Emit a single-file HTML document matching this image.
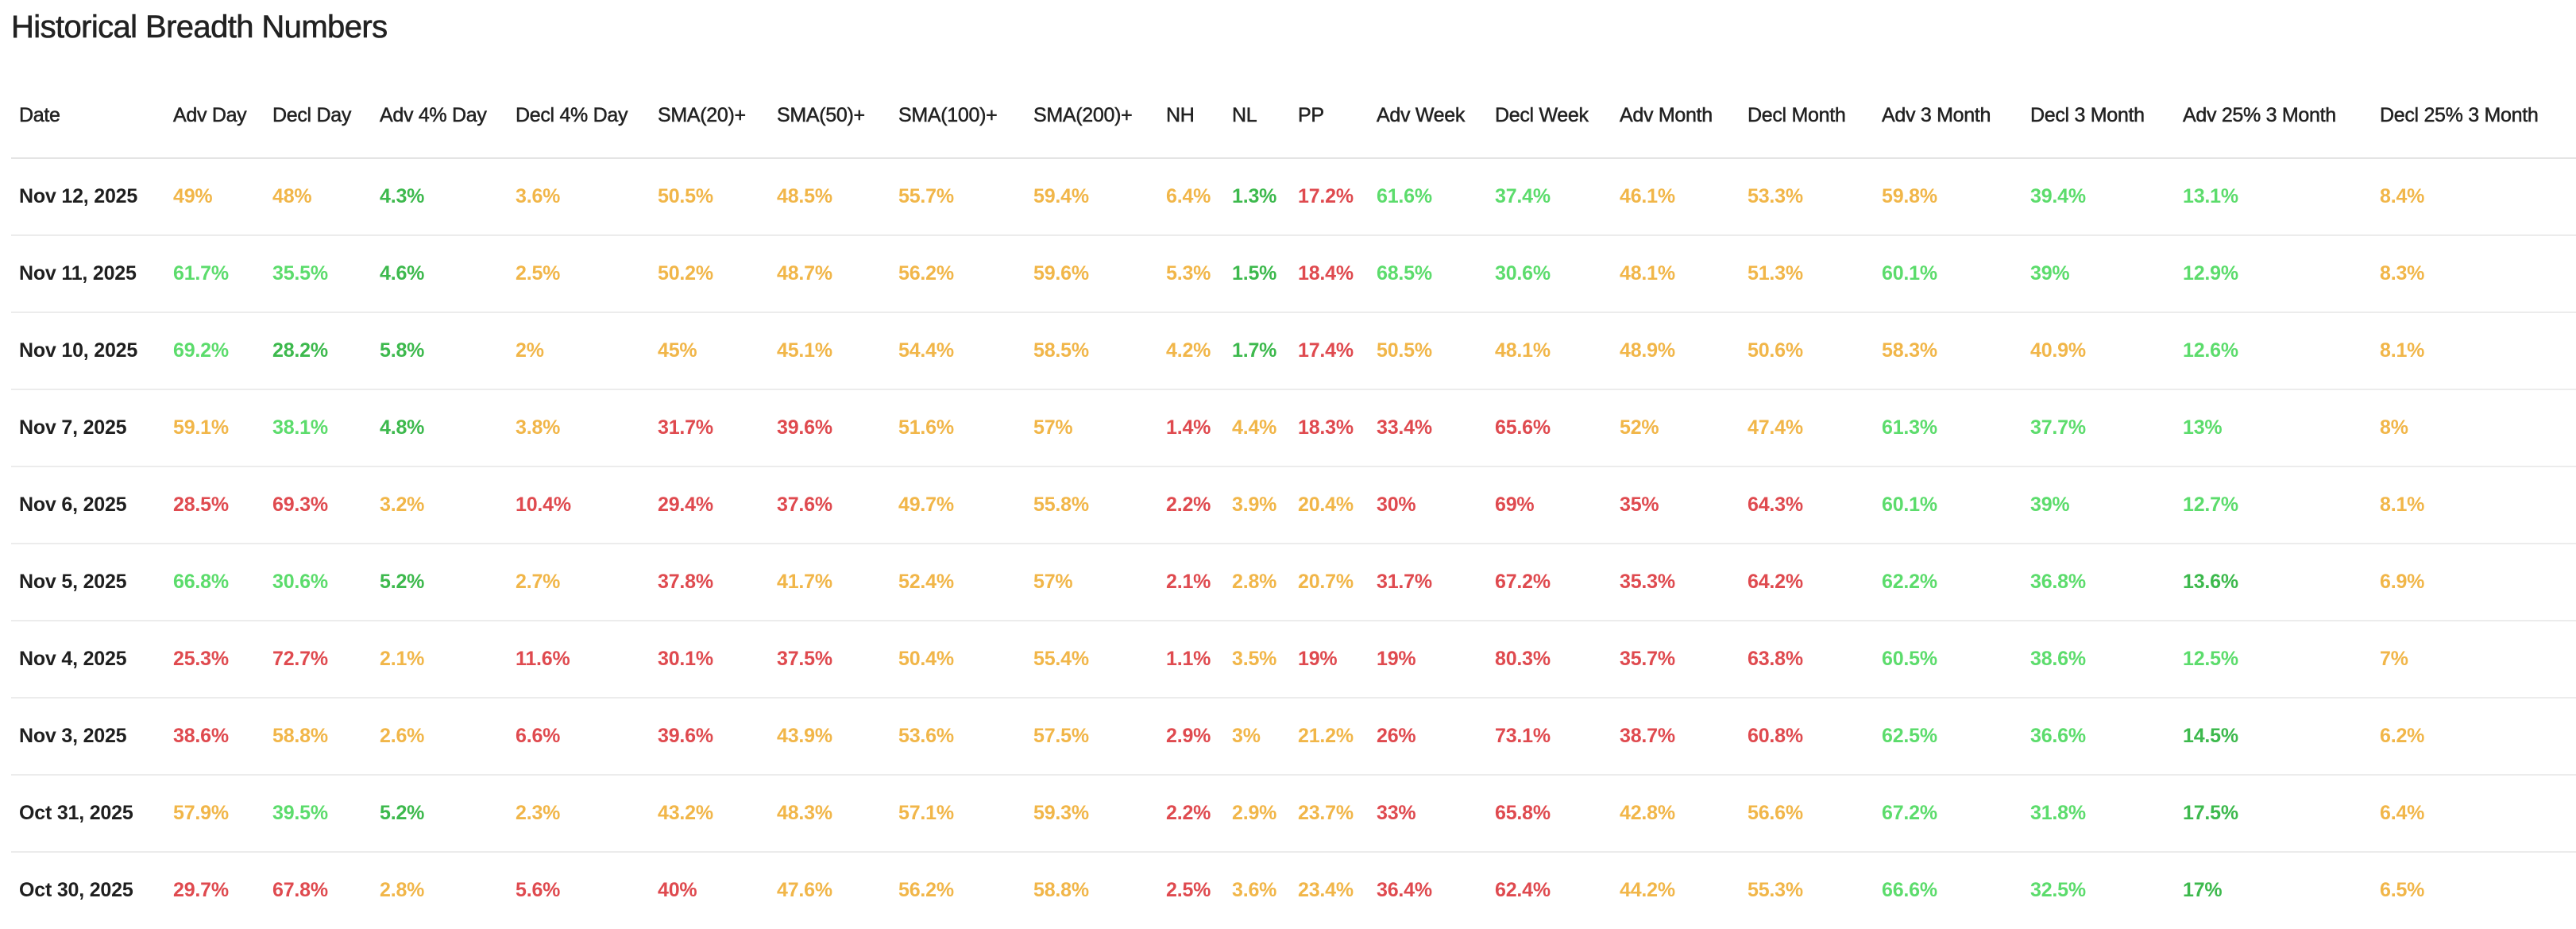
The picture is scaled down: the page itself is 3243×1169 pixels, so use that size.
<!DOCTYPE html>
<html><head><meta charset="utf-8"><style>
html,body{margin:0;padding:0;background:#fff;width:3243px;height:1169px;overflow:hidden}
body{font-family:"Liberation Sans",sans-serif;color:#222}
h1{position:absolute;left:14px;top:12px;margin:0;font-weight:normal;font-size:40px;letter-spacing:-0.6px;color:#222;-webkit-text-stroke:0.6px #222}
table{position:absolute;left:14px;top:92px;border-collapse:collapse;table-layout:fixed;width:3229px}
th,td{padding:0;text-align:left;white-space:nowrap;overflow:visible}
th{height:106px;font-weight:normal;font-size:25px;color:#222;border-bottom:2px solid #e4e4e4;letter-spacing:-0.3px;-webkit-text-stroke:0.5px #222}
td{height:95px;font-weight:bold;font-size:25px;border-bottom:2px solid #ececec;letter-spacing:-0.2px}
th:first-child,td:first-child{padding-left:10px}
td:first-child{color:#1f1f1f}
.Y{color:#f1b649}.R{color:#df4a4f}.G{color:#5cdc6c}.D{color:#3db94d}
</style></head><body>
<h1>Historical Breadth Numbers</h1>
<table>
<colgroup><col style="width:204px"><col style="width:125px"><col style="width:135px"><col style="width:171px"><col style="width:179px"><col style="width:150px"><col style="width:153px"><col style="width:170px"><col style="width:167px"><col style="width:83px"><col style="width:83px"><col style="width:99px"><col style="width:149px"><col style="width:157px"><col style="width:161px"><col style="width:169px"><col style="width:187px"><col style="width:192px"><col style="width:248px"><col style="width:247px"></colgroup>
<tr><th>Date</th><th>Adv Day</th><th>Decl Day</th><th>Adv 4% Day</th><th>Decl 4% Day</th><th>SMA(20)+</th><th>SMA(50)+</th><th>SMA(100)+</th><th>SMA(200)+</th><th>NH</th><th>NL</th><th>PP</th><th>Adv Week</th><th>Decl Week</th><th>Adv Month</th><th>Decl Month</th><th>Adv 3 Month</th><th>Decl 3 Month</th><th>Adv 25% 3 Month</th><th>Decl 25% 3 Month</th></tr>
<tr><td>Nov 12, 2025</td><td class="Y">49%</td><td class="Y">48%</td><td class="D">4.3%</td><td class="Y">3.6%</td><td class="Y">50.5%</td><td class="Y">48.5%</td><td class="Y">55.7%</td><td class="Y">59.4%</td><td class="Y">6.4%</td><td class="D">1.3%</td><td class="R">17.2%</td><td class="G">61.6%</td><td class="G">37.4%</td><td class="Y">46.1%</td><td class="Y">53.3%</td><td class="Y">59.8%</td><td class="G">39.4%</td><td class="G">13.1%</td><td class="Y">8.4%</td></tr>
<tr><td>Nov 11, 2025</td><td class="G">61.7%</td><td class="G">35.5%</td><td class="D">4.6%</td><td class="Y">2.5%</td><td class="Y">50.2%</td><td class="Y">48.7%</td><td class="Y">56.2%</td><td class="Y">59.6%</td><td class="Y">5.3%</td><td class="D">1.5%</td><td class="R">18.4%</td><td class="G">68.5%</td><td class="G">30.6%</td><td class="Y">48.1%</td><td class="Y">51.3%</td><td class="G">60.1%</td><td class="G">39%</td><td class="G">12.9%</td><td class="Y">8.3%</td></tr>
<tr><td>Nov 10, 2025</td><td class="G">69.2%</td><td class="D">28.2%</td><td class="D">5.8%</td><td class="Y">2%</td><td class="Y">45%</td><td class="Y">45.1%</td><td class="Y">54.4%</td><td class="Y">58.5%</td><td class="Y">4.2%</td><td class="D">1.7%</td><td class="R">17.4%</td><td class="Y">50.5%</td><td class="Y">48.1%</td><td class="Y">48.9%</td><td class="Y">50.6%</td><td class="Y">58.3%</td><td class="Y">40.9%</td><td class="G">12.6%</td><td class="Y">8.1%</td></tr>
<tr><td>Nov 7, 2025</td><td class="Y">59.1%</td><td class="G">38.1%</td><td class="D">4.8%</td><td class="Y">3.8%</td><td class="R">31.7%</td><td class="R">39.6%</td><td class="Y">51.6%</td><td class="Y">57%</td><td class="R">1.4%</td><td class="Y">4.4%</td><td class="R">18.3%</td><td class="R">33.4%</td><td class="R">65.6%</td><td class="Y">52%</td><td class="Y">47.4%</td><td class="G">61.3%</td><td class="G">37.7%</td><td class="G">13%</td><td class="Y">8%</td></tr>
<tr><td>Nov 6, 2025</td><td class="R">28.5%</td><td class="R">69.3%</td><td class="Y">3.2%</td><td class="R">10.4%</td><td class="R">29.4%</td><td class="R">37.6%</td><td class="Y">49.7%</td><td class="Y">55.8%</td><td class="R">2.2%</td><td class="Y">3.9%</td><td class="Y">20.4%</td><td class="R">30%</td><td class="R">69%</td><td class="R">35%</td><td class="R">64.3%</td><td class="G">60.1%</td><td class="G">39%</td><td class="G">12.7%</td><td class="Y">8.1%</td></tr>
<tr><td>Nov 5, 2025</td><td class="G">66.8%</td><td class="G">30.6%</td><td class="D">5.2%</td><td class="Y">2.7%</td><td class="R">37.8%</td><td class="Y">41.7%</td><td class="Y">52.4%</td><td class="Y">57%</td><td class="R">2.1%</td><td class="Y">2.8%</td><td class="Y">20.7%</td><td class="R">31.7%</td><td class="R">67.2%</td><td class="R">35.3%</td><td class="R">64.2%</td><td class="G">62.2%</td><td class="G">36.8%</td><td class="D">13.6%</td><td class="Y">6.9%</td></tr>
<tr><td>Nov 4, 2025</td><td class="R">25.3%</td><td class="R">72.7%</td><td class="Y">2.1%</td><td class="R">11.6%</td><td class="R">30.1%</td><td class="R">37.5%</td><td class="Y">50.4%</td><td class="Y">55.4%</td><td class="R">1.1%</td><td class="Y">3.5%</td><td class="R">19%</td><td class="R">19%</td><td class="R">80.3%</td><td class="R">35.7%</td><td class="R">63.8%</td><td class="G">60.5%</td><td class="G">38.6%</td><td class="G">12.5%</td><td class="Y">7%</td></tr>
<tr><td>Nov 3, 2025</td><td class="R">38.6%</td><td class="Y">58.8%</td><td class="Y">2.6%</td><td class="R">6.6%</td><td class="R">39.6%</td><td class="Y">43.9%</td><td class="Y">53.6%</td><td class="Y">57.5%</td><td class="R">2.9%</td><td class="Y">3%</td><td class="Y">21.2%</td><td class="R">26%</td><td class="R">73.1%</td><td class="R">38.7%</td><td class="R">60.8%</td><td class="G">62.5%</td><td class="G">36.6%</td><td class="D">14.5%</td><td class="Y">6.2%</td></tr>
<tr><td>Oct 31, 2025</td><td class="Y">57.9%</td><td class="G">39.5%</td><td class="D">5.2%</td><td class="Y">2.3%</td><td class="Y">43.2%</td><td class="Y">48.3%</td><td class="Y">57.1%</td><td class="Y">59.3%</td><td class="R">2.2%</td><td class="Y">2.9%</td><td class="Y">23.7%</td><td class="R">33%</td><td class="R">65.8%</td><td class="Y">42.8%</td><td class="Y">56.6%</td><td class="G">67.2%</td><td class="G">31.8%</td><td class="D">17.5%</td><td class="Y">6.4%</td></tr>
<tr><td style="border-bottom:none">Oct 30, 2025</td><td class="R" style="border-bottom:none">29.7%</td><td class="R" style="border-bottom:none">67.8%</td><td class="Y" style="border-bottom:none">2.8%</td><td class="R" style="border-bottom:none">5.6%</td><td class="R" style="border-bottom:none">40%</td><td class="Y" style="border-bottom:none">47.6%</td><td class="Y" style="border-bottom:none">56.2%</td><td class="Y" style="border-bottom:none">58.8%</td><td class="R" style="border-bottom:none">2.5%</td><td class="Y" style="border-bottom:none">3.6%</td><td class="Y" style="border-bottom:none">23.4%</td><td class="R" style="border-bottom:none">36.4%</td><td class="R" style="border-bottom:none">62.4%</td><td class="Y" style="border-bottom:none">44.2%</td><td class="Y" style="border-bottom:none">55.3%</td><td class="G" style="border-bottom:none">66.6%</td><td class="G" style="border-bottom:none">32.5%</td><td class="D" style="border-bottom:none">17%</td><td class="Y" style="border-bottom:none">6.5%</td></tr>
</table>
</body></html>
